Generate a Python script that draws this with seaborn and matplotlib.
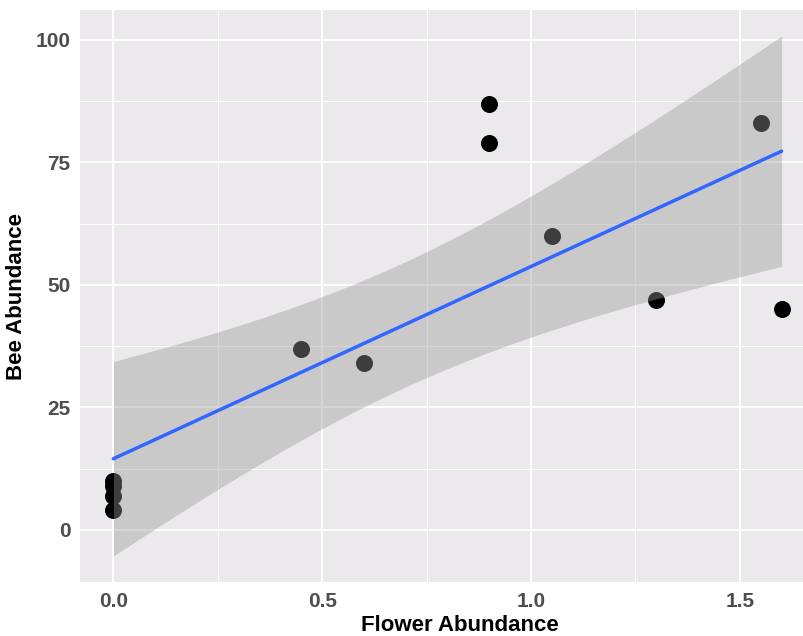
import numpy as np
import pandas as pd
import matplotlib
matplotlib.use("Agg")
import matplotlib.pyplot as plt
import seaborn as sns
from matplotlib.ticker import MultipleLocator

# Site observations
flower_abundance = [0.0, 0.0, 0.0, 0.0, 0.45, 0.6, 0.9, 0.9, 1.05, 1.3, 1.55, 1.6]
bee_abundance = [4, 7, 9, 10, 37, 34, 87, 79, 60, 47, 83, 45]

x_ticks = [0.0, 0.5, 1.0, 1.5]
x_tick_labels = ["0.0", "0.5", "1.0", "1.5"]
y_ticks = [0, 25, 50, 75, 100]
y_tick_labels = ["0", "25", "50", "75", "100"]

df = pd.DataFrame({"flower": flower_abundance, "bee": bee_abundance})

sns.set_theme(style="darkgrid")
plt.rcParams["font.family"] = ["Liberation Sans", "DejaVu Sans"]

# Ordinary least squares fit with a 95% t-based confidence band
x = df["flower"].to_numpy(float)
y = df["bee"].to_numpy(float)
n = len(x)
slope, intercept = np.polyfit(x, y, 1)
resid = y - (intercept + slope * x)
s = np.sqrt(np.sum(resid ** 2) / (n - 2))
sxx = np.sum((x - x.mean()) ** 2)
try:
    from scipy import stats
    tcrit = stats.t.ppf(0.975, n - 2)
except Exception:
    tcrit = 2.228
grid = np.linspace(x.min(), x.max(), 200)
fit = intercept + slope * grid
se = s * np.sqrt(1.0 / n + (grid - x.mean()) ** 2 / sxx)
lo, hi = fit - tcrit * se, fit + tcrit * se

# Panel limits with a 5% expansion on each side
xr = x.max() - x.min()
xlim = (x.min() - 0.05 * xr, x.max() + 0.05 * xr)
ymin, ymax = min(y.min(), lo.min()), max(y.max(), hi.max())
yr = ymax - ymin
ylim = (ymin - 0.05 * yr, ymax + 0.05 * yr)

W, H = 804, 636
fig = plt.figure(figsize=(W / 100, H / 100), dpi=100)
left_px, right_px, top_px, bottom_px = 80, 815, 10, 582
ax = fig.add_axes([left_px / W, 1 - bottom_px / H,
                   (right_px - left_px) / W, (bottom_px - top_px) / H])

ax.set_facecolor("#ECE9EC")
sns.scatterplot(data=df, x="flower", y="bee", ax=ax, color="black",
                s=150, linewidth=0, zorder=3)
ax.fill_between(grid, lo, hi, color="#999999", alpha=0.4, linewidth=0, zorder=4)
sns.lineplot(x=grid, y=fit, ax=ax, color="#3366FF", linewidth=2.5, zorder=5)

ax.set_xlim(*xlim)
ax.set_ylim(*ylim)
ax.set_xticks(x_ticks)
ax.set_xticklabels(x_tick_labels)
ax.set_yticks(y_ticks)
ax.set_yticklabels(y_tick_labels)
ax.xaxis.set_minor_locator(MultipleLocator(0.25))
ax.yaxis.set_minor_locator(MultipleLocator(12.5))
ax.grid(which="major", color="white", linewidth=1.4, zorder=0)
ax.grid(which="minor", color="white", linewidth=0.7, zorder=0)
ax.set_axisbelow(True)
for sp in ax.spines.values():
    sp.set_visible(False)

ax.tick_params(axis="both", which="major", length=4, width=1, color="#333333",
               labelcolor="#4D4D4D", labelsize=15, pad=3)
ax.tick_params(axis="both", which="minor", length=0)
for lbl in ax.get_xticklabels() + ax.get_yticklabels():
    lbl.set_fontweight("bold")

ax.set_xlabel("Flower Abundance", fontsize=16, fontweight="bold", color="black", labelpad=4)
ax.set_ylabel("Bee Abundance", fontsize=16, fontweight="bold", color="black", labelpad=6)
ax.xaxis.set_label_coords((460 - left_px) / (right_px - left_px), -0.058)

fig.savefig("out.png", dpi=100, facecolor="white")
